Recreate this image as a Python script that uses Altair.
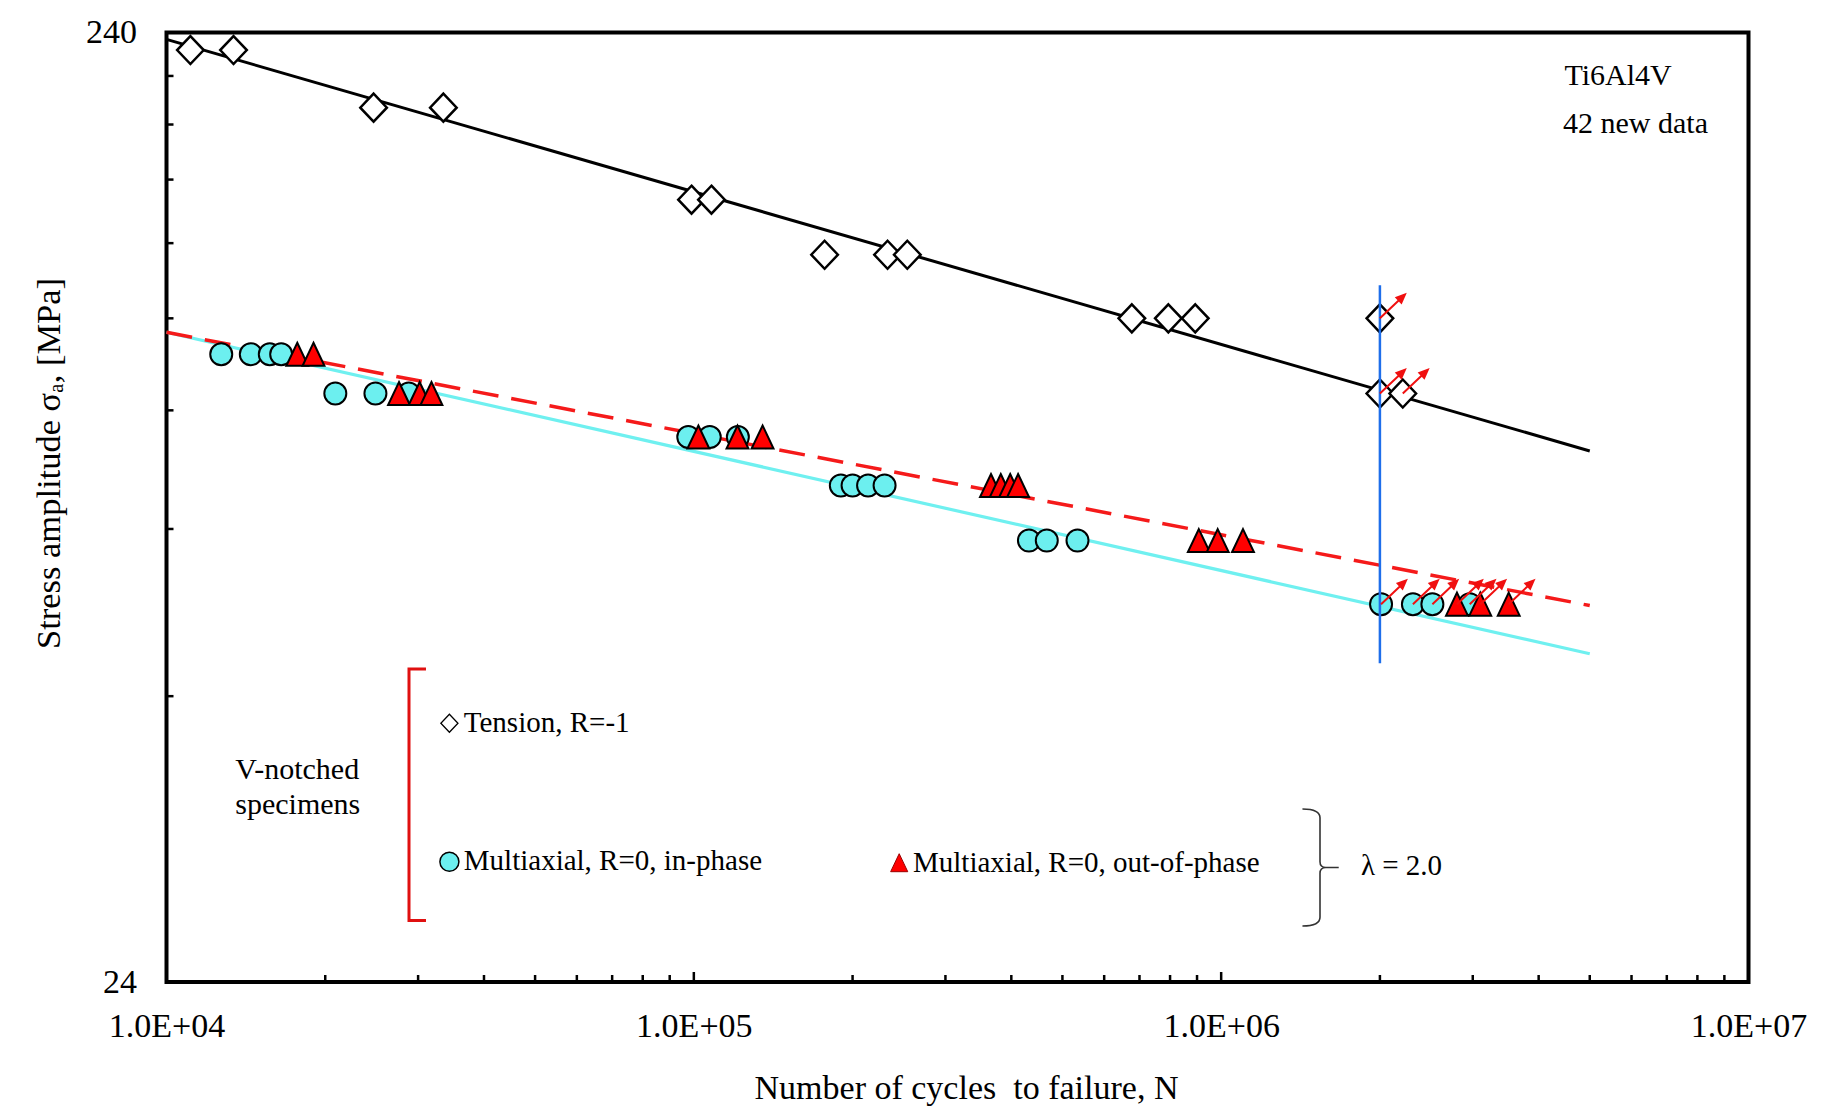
import altair as alt
import pandas as pd

# ---------------- data ----------------
tension_N = [1.11e4, 1.34e4, 2.47e4, 3.35e4, 9.9e4, 1.08e5, 1.77e5, 2.33e5, 2.54e5,
             6.77e5, 7.94e5, 8.93e5, 2.0e6, 2.0e6, 2.21e6]
tension_S = [230, 230, 200, 200, 160, 160, 140, 140, 140, 120, 120, 120, 120, 100, 100]
tension_runout = [0, 0, 0, 0, 0, 0, 0, 0, 0, 0, 0, 0, 1, 1, 1]

inphase_N = [1.27e4, 1.445e4, 1.57e4, 1.65e4, 2.09e4, 2.49e4, 2.88e4, 9.76e4, 1.072e5, 1.212e5,
             1.90e5, 2.0e5, 2.14e5, 2.30e5, 4.32e5, 4.67e5, 5.34e5, 2.01e6, 2.31e6, 2.515e6, 2.96e6]
inphase_S = [110, 110, 110, 110, 100, 100, 100, 90, 90, 90, 80, 80, 80, 80, 70, 70, 70, 60, 60, 60, 60]
inphase_runout = [0, 0, 0, 0, 0, 0, 0, 0, 0, 0, 0, 0, 0, 0, 0, 0, 0, 1, 1, 1, 1]

outphase_N = [1.77e4, 1.90e4, 2.76e4, 3.02e4, 3.18e4, 1.02e5, 1.21e5, 1.35e5, 3.66e5, 3.82e5,
              3.98e5, 4.12e5, 9.07e5, 9.85e5, 1.10e6, 2.80e6, 3.10e6, 3.51e6]
outphase_S = [110, 110, 100, 100, 100, 90, 90, 90, 80, 80, 80, 80, 70, 70, 70, 60, 60, 60]
outphase_runout = [0, 0, 0, 0, 0, 0, 0, 0, 0, 0, 0, 0, 0, 0, 0, 1, 1, 1]

tension_fit_N = [1e4, 5e6]
tension_fit_S = [236, 87]
inphase_fit_N = [1e4, 5e6]
inphase_fit_S = [116, 53.2]
outphase_fit_N = [1e4, 5e6]
outphase_fit_S = [116, 59.8]

runout_limit_N = [2e6]
runout_limit_S = [52]
runout_limit_S2 = [130]

x_major = [1e4, 1e5, 1e6, 1e7]
x_major_labels = ["1.0E+04", "1.0E+05", "1.0E+06", "1.0E+07"]
x_minor = [k * d for d in (1e4, 1e5, 1e6) for k in range(2, 10)]
y_major = [24, 240]
y_major_labels = ["24", "240"]
y_minor = [48, 72, 96, 120, 144, 168, 192, 216]

# ---------------- layout ----------------
W, H = 1582, 949.5
FONT = "Liberation Serif"
xs = alt.Scale(type="log", domain=[1e4, 1e7], nice=False)
ys = alt.Scale(type="log", domain=[24, 240], nice=False)

def label_expr(vals, labels):
    expr = "''"
    for v, l in zip(reversed(vals), reversed(labels)):
        expr = f"(abs(datum.value - {v}) < {v}*1e-6) ? '{l}' : ({expr})"
    return expr

x_axis = alt.Axis(values=x_major, labelExpr=label_expr(x_major, x_major_labels),
                  ticks=False, tickSize=0, domain=False, grid=False, labelFlush=False,
                  labelOverlap=False, labelPadding=44, labelBaseline="middle",
                  labelFont=FONT, labelFontSize=34, labelColor="black",
                  title="Number of cycles\u00a0 to failure, N", titleFont=FONT,
                  titleFontSize=34, titleFontWeight="normal", titleColor="black",
                  titleX=799.5, titleY=106, titleBaseline="middle", titleAlign="center")
y_axis = alt.Axis(values=y_major, labelExpr=label_expr(y_major, y_major_labels),
                  ticks=False, tickSize=0, domain=False, grid=False, labelFlush=False,
                  labelOverlap=False, labelPadding=30, labelFont=FONT, labelFontSize=34,
                  labelColor="black",
                  title="Stress amplitude  σₐ,  [MPa]", titleFont=FONT, titleFontSize=34.5,
                  titleFontWeight="normal", titleColor="black", titleX=-117, titleY=430.5,
                  titleAngle=270, titleBaseline="middle", titleAlign="center")

def X():
    return alt.X("N:Q", scale=xs, axis=x_axis)

def Y():
    return alt.Y("S:Q", scale=ys, axis=y_axis)

def line_df(n, s):
    return pd.DataFrame({"N": n, "S": s})

tension_line = alt.Chart(line_df(tension_fit_N, tension_fit_S)).mark_line(
    color="black", strokeWidth=3).encode(x=X(), y=Y())
inphase_line = alt.Chart(line_df(inphase_fit_N, inphase_fit_S)).mark_line(
    color="#6FF0F0", strokeWidth=3.2).encode(x=X(), y=Y())
outphase_line = alt.Chart(line_df(outphase_fit_N, outphase_fit_S)).mark_line(
    color="#F51A1A", strokeWidth=3.5, strokeDash=[26, 13]).encode(x=X(), y=Y())

DIAMOND = "M0,-1L0.95,0L0,1L-0.95,0Z"
TRIANGLE = "M0,-1L0.95,1L-0.95,1Z"
ARROW = "M0,0L0.76,-0.72M1,-0.95L0.857,-0.621L0.665,-0.825Z"
BRACE = "M-0.3,-1Q0,-1 0,-0.85L0,-0.1Q0,0 0.1,0L0.32,0M0.1,0Q0,0 0,0.1L0,0.85Q0,1 -0.3,1"
BRACKET = "M0.135,-1L0,-1L0,1L0.135,1"

tension_df = pd.DataFrame({"N": tension_N, "S": tension_S, "r": tension_runout})
inphase_df = pd.DataFrame({"N": inphase_N, "S": inphase_S, "r": inphase_runout})
outphase_df = pd.DataFrame({"N": outphase_N, "S": outphase_S, "r": outphase_runout})

circles = alt.Chart(inphase_df).mark_point(
    shape="circle", size=484, filled=True, fill="#6CEFEF", stroke="black",
    strokeWidth=2, opacity=1).encode(x=X(), y=Y())
triangles = alt.Chart(outphase_df).mark_point(
    shape=TRIANGLE, size=529, filled=True, fill="#FF0000", stroke="black",
    strokeWidth=2, opacity=1).encode(x=X(), y=Y())
diamonds = alt.Chart(tension_df).mark_point(
    shape=DIAMOND, size=784, filled=True, fill="white", stroke="black",
    strokeWidth=2.5, opacity=1).encode(x=X(), y=Y())

runout_rule = alt.Chart(pd.DataFrame({"N": runout_limit_N, "S": runout_limit_S,
                                      "S2": runout_limit_S2})).mark_rule(
    color="#1E6EEA", strokeWidth=2.5).encode(x=X(), y=Y(), y2="S2:Q")

runout_pts = pd.concat([tension_df, inphase_df, outphase_df])
runout_pts = runout_pts[runout_pts["r"] == 1]
arrows = alt.Chart(runout_pts).mark_point(
    shape=ARROW, size=2500, filled=True, fill="#F01010", stroke="#F01010",
    strokeWidth=2, opacity=1).encode(x=X(), y=Y())

# inward axis ticks
one = pd.DataFrame({"a": [0]})
xt_minor = alt.Chart(pd.DataFrame({"N": x_minor})).mark_rule(
    color="black", strokeWidth=2.5).encode(x=X(), y=alt.value(H), y2=alt.value(H - 7))
xt_major = alt.Chart(pd.DataFrame({"N": x_major[1:-1]})).mark_rule(
    color="black", strokeWidth=2.5).encode(x=X(), y=alt.value(H), y2=alt.value(H - 10))
yt_minor = alt.Chart(pd.DataFrame({"S": y_minor})).mark_rule(
    color="black", strokeWidth=2.5).encode(y=Y(), x=alt.value(0), x2=alt.value(7))

def txt(s, x, y, size=29, align="left"):
    return alt.Chart(one).mark_text(font=FONT, fontSize=size, align=align,
                                    baseline="alphabetic", color="black").encode(
        x=alt.value(x), y=alt.value(y), text=alt.value(s))

def sym(shape, x, y, size, fill, stroke, sw, filled=True):
    return alt.Chart(one).mark_point(shape=shape, size=size, filled=filled,
                                     fill=fill, stroke=stroke, strokeWidth=sw,
                                     opacity=1).encode(x=alt.value(x), y=alt.value(y))

annotations = [
    txt("Ti6Al4V", 1398, 52.5, 30),
    txt("42 new data", 1396.5, 100.8, 30),
    txt("V-notched", 68.8, 746.8, 30),
    txt("specimens", 68.8, 781, 30),
    txt("Tension, R=-1", 297.3, 699.2, 29),
    txt("Multiaxial, R=0, in-phase", 297.3, 837.5, 29),
    txt("Multiaxial, R=0, out-of-phase", 746.5, 839, 29),
    txt("λ = 2.0", 1194.4, 842.5, 29),
    sym(DIAMOND, 282.9, 690.8, 324, "white", "black", 1.3),
    sym("circle", 282.9, 829.2, 361, "#6CEFEF", "black", 1.5),
    sym(TRIANGLE, 732.7, 830.2, 324, "#FF0000", "#990000", 1),
    sym(BRACKET, 242.5, 762.3, 63303, "transparent", "#E01010", 3, filled=False),
    sym(BRACE, 1153.5, 835, 13689, "transparent", "#333333", 1.6, filled=False),
]

chart = alt.layer(
    tension_line, inphase_line, outphase_line,
    xt_minor, xt_major, yt_minor,
    circles, triangles, diamonds, runout_rule, arrows,
    *annotations,
).properties(
    width=W, height=H,
    padding={"left": 158.5, "top": 24.5, "right": 62, "bottom": 127},
    autosize=alt.AutoSizeParams(type="none"),
    background="white",
).configure_view(stroke="black", strokeWidth=4)

chart.save("out.html", embed_options={"renderer": "svg", "actions": False})
